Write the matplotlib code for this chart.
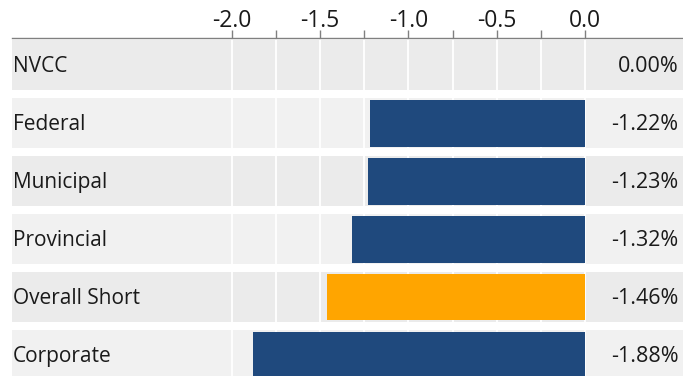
import numpy as np
import matplotlib.pyplot as plt

# rendimientos por segmento (%)
categories = ["NVCC", "Federal", "Municipal", "Provincial", "Overall Short", "Corporate"]
values = [0.00, -1.22, -1.23, -1.32, -1.46, -1.88]
highlight = "Overall Short"
tick_values = [-2.0, -1.5, -1.0, -0.5, 0.0]
grid_values = [-2.0, -1.75, -1.5, -1.25, -1.0, -0.75, -0.5, -0.25, 0.0]

navy = "#1f497d"
orange = "#ffa500"
band_colors = ["#ebebeb", "#f1f1f1"]

plt.rcParams['font.family'] = ['Open Sans', 'DejaVu Sans']

fig = plt.figure(figsize=(6.83, 3.76), dpi=100)
ax = fig.add_axes([12 / 683, 0, 671 / 683, (376 - 38) / 376])

x_lo, x_hi = -3.246, 0.555
ypos = np.arange(len(categories))
band_h = 50 / 58

# fondos de fila
for i, y in enumerate(ypos):
    ax.barh(y, x_hi - x_lo, left=x_lo, height=band_h,
            color=band_colors[i % 2], zorder=0)

# lineas de rejilla blancas
for gx in grid_values:
    ax.axvline(gx, color="white", lw=1.3, zorder=1)

colors = [orange if c == highlight else navy for c in categories]
ax.barh(ypos, values, height=0.81, color=colors, zorder=2)

for y, cat, v in zip(ypos, categories, values):
    ax.text(x_lo + 0.005, y + 0.03, cat, ha="left", va="center",
            fontsize=15, color="#1a1a1a", zorder=3)
    ax.text(x_hi - 0.025, y + 0.03, f"{v:.2f}%", ha="right", va="center",
            fontsize=15.5, color="#1a1a1a", zorder=3)

ax.set_xlim(x_lo, x_hi)
ax.set_ylim(5.362, -0.466)
ax.set_xticks(tick_values)
ax.set_xticklabels([f"{t:.1f}" for t in tick_values])
ax.xaxis.set_minor_locator(plt.FixedLocator(grid_values))
ax.xaxis.tick_top()
ax.tick_params(axis="x", which="both", direction="out", length=6,
               color="#808080", width=1, labelsize=16.5, pad=-2.5,
               labelcolor="#1a1a1a")
ax.tick_params(axis="x", which="minor", labeltop=False)
ax.set_yticks([])

for s in ["left", "right", "bottom"]:
    ax.spines[s].set_visible(False)
ax.spines["top"].set_color("#808080")
ax.spines["top"].set_linewidth(1)
ax.set_facecolor("white")

fig.savefig("out.png", dpi=100)
